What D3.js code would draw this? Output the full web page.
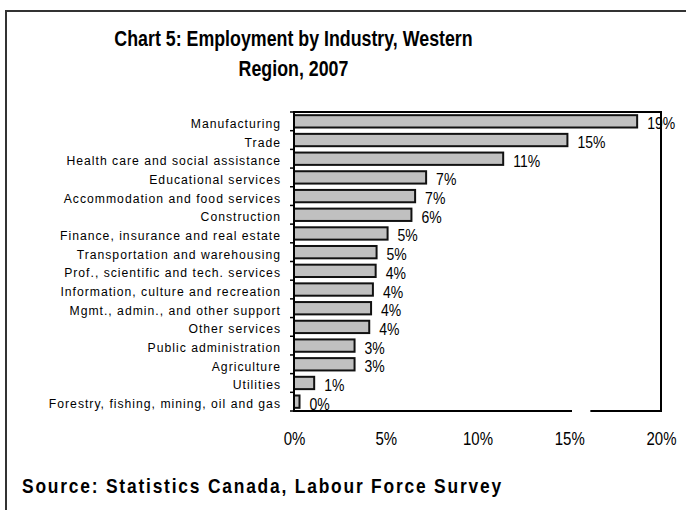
<!DOCTYPE html>
<html>
<head>
<meta charset="utf-8">
<script src="https://cdn.jsdelivr.net/npm/d3@7"></script>
<style>
  html, body { margin: 0; padding: 0; background: #fff; }
  svg { display: block; font-family: "Liberation Sans", Arial, sans-serif; }
</style>
</head>
<body>
<svg id="chart" width="686" height="510"></svg>
<script>
// Employment share by industry (% of total), Western Region, 2007
const industries = [
  "Manufacturing",
  "Trade",
  "Health care and social assistance",
  "Educational services",
  "Accommodation and food services",
  "Construction",
  "Finance, insurance and real estate",
  "Transportation and warehousing",
  "Prof., scientific and tech. services",
  "Information, culture and recreation",
  "Mgmt., admin., and other support",
  "Other services",
  "Public administration",
  "Agriculture",
  "Utilities",
  "Forestry, fishing, mining, oil and gas"
];
const shares = [18.7, 14.9, 11.4, 7.2, 6.6, 6.4, 5.1, 4.5, 4.45, 4.3, 4.2, 4.1, 3.3, 3.3, 1.1, 0.3];
const xTicks = [0, 5, 10, 15, 20];
const titleLines = ["Chart 5: Employment by Industry, Western", "Region, 2007"];
const sourceText = "Source: Statistics Canada, Labour Force Survey";

const rows = industries.map((name, i) => ({ name, value: shares[i] }));

const svg = d3.select("#chart");
const plot = { left: 294, right: 661, top: 112, bottom: 411 };
const stretch = 1.2;   // glyphs are drawn slightly taller than wide

const x = d3.scaleLinear().domain([0, 20]).range([plot.left, plot.right]);
const y = d3.scaleBand()
  .domain(industries)
  .range([plot.top, plot.bottom])
  .paddingInner(0.34)
  .paddingOuter(0.17);
const step = y.step();

// outer frame
svg.append("rect")
  .attr("x", 6).attr("y", 11)
  .attr("width", 720).attr("height", 540)
  .attr("fill", "none")
  .attr("stroke", "#333")
  .attr("stroke-width", 2);

// helper: text stretched vertically about its baseline
function label(parent, tx, ty, str, opts) {
  const g = parent.append("g")
    .attr("transform", `translate(${tx},${ty}) scale(1,${opts.sy || stretch})`);
  return g.append("text")
    .attr("x", 0).attr("y", 0)
    .attr("text-anchor", opts.anchor || "start")
    .attr("font-size", opts.size)
    .attr("font-weight", opts.weight || "normal")
    .attr("letter-spacing", opts.spacing || 0)
    .attr("fill", "#000")
    .text(str);
}

// title
const titleG = svg.append("g");
titleLines.forEach((t, i) => {
  label(titleG, 293.5, 46 + i * 30, t, { size: 17.8, weight: "bold", anchor: "middle" });
});

// bars
svg.append("g").selectAll("rect")
  .data(rows)
  .join("rect")
  .attr("x", x(0))
  .attr("y", d => y(d.name))
  .attr("width", d => x(d.value) - x(0))
  .attr("height", y.bandwidth())
  .attr("fill", "#c0c0c0")
  .attr("stroke", "#111")
  .attr("stroke-width", 2);

// value labels
const valG = svg.append("g");
rows.forEach(d => {
  label(valG, x(d.value) + 10, y(d.name) + y.bandwidth() / 2 + 8,
        Math.round(d.value) + "%", { size: 14 });
});

// plot frame: top, right and left edges
svg.append("path")
  .attr("d", `M${plot.left},${plot.bottom}V${plot.top}H${plot.right}V${plot.bottom}`)
  .attr("fill", "none")
  .attr("stroke", "#000")
  .attr("stroke-width", 2);

// bottom edge, interrupted just past the 15% mark
const gap = [15.15, 16.15];
svg.append("path")
  .attr("d", `M${plot.left - 1},${plot.bottom}H${x(gap[0])}M${x(gap[1])},${plot.bottom}H${plot.right + 1}`)
  .attr("fill", "none")
  .attr("stroke", "#000")
  .attr("stroke-width", 2);

// category tick marks at band boundaries
const bounds = industries.map(c => y(c) - step * y.paddingInner() / 2)
  .concat([plot.bottom]);
svg.append("g").selectAll("line")
  .data(bounds)
  .join("line")
  .attr("x1", plot.left - 4).attr("x2", plot.left)
  .attr("y1", d => d).attr("y2", d => d)
  .attr("stroke", "#000")
  .attr("stroke-width", 1.5);

// category labels
const catG = svg.append("g");
industries.forEach(c => {
  label(catG, 281, y(c) + y.bandwidth() / 2 + 6.5, c,
        { size: 12.2, anchor: "end", spacing: 1.0, sy: 1.12 });
});

// x axis tick labels
const xAxis = svg.append("g")
  .attr("transform", `translate(0,${plot.bottom})`)
  .call(d3.axisBottom(x).tickValues(xTicks).tickSize(0).tickFormat(d => d + "%"));
xAxis.select(".domain").remove();
xAxis.selectAll(".tick text")
  .attr("y", 0).attr("dy", 0)
  .attr("transform", `translate(0,34) scale(1,${stretch})`)
  .attr("font-size", 15)
  .attr("font-family", "Liberation Sans, Arial, sans-serif")
  .attr("fill", "#000");

// source note
label(svg, 22, 493, sourceText, { size: 17.4, weight: "bold", spacing: 1.8 });
</script>
</body>
</html>
